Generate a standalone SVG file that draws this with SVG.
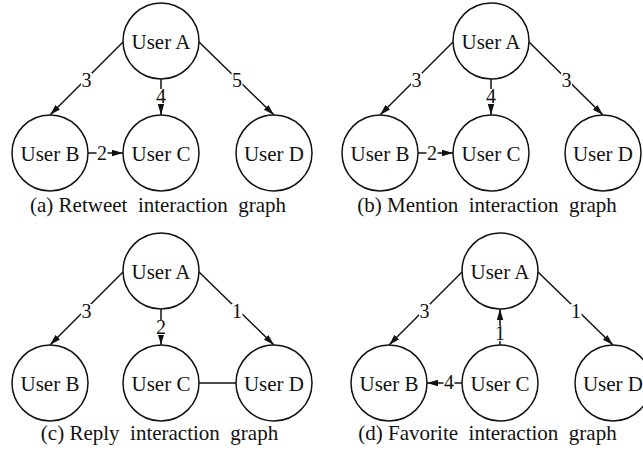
<svg xmlns="http://www.w3.org/2000/svg" width="643" height="456" viewBox="0 0 643 456" font-family="'Liberation Serif', 'Times New Roman', serif">
  <style>
    .node circle { fill: #ffffff; stroke: #111111; stroke-width: 1.5; }
    text { fill: #111111; text-anchor: middle; }
    .node text, .caption { font-size: 21px; }
    .caption { white-space: pre; }
    .edge { stroke: #111111; stroke-width: 1.5; fill: none; }
    .arrow { marker-end: url(#head); }
    .wlabel rect { fill: #ffffff; }
    .wlabel text { font-size: 20px; }
  </style>
  <defs>
    <marker id="head" markerUnits="userSpaceOnUse" markerWidth="12" markerHeight="7" refX="11" refY="3.25" orient="auto">
      <path d="M0,0 L11,3.25 L0,6.5 Z" fill="#111111"/>
    </marker>
  </defs>
  <rect width="643" height="456" fill="#ffffff"/>

  <!-- connectors -->
  <g id="connectors">
    <!-- (a) retweet -->
    <line class="edge arrow" x1="123" y1="42" x2="50" y2="115"/>
    <line class="edge arrow" x1="161" y1="79" x2="161" y2="115"/>
    <line class="edge arrow" x1="199" y1="42" x2="274" y2="115"/>
    <line class="edge arrow" x1="88" y1="153" x2="123" y2="153"/>
    <!-- (b) mention -->
    <line class="edge arrow" x1="453" y1="42" x2="380" y2="115"/>
    <line class="edge arrow" x1="491" y1="79" x2="491" y2="115"/>
    <line class="edge arrow" x1="529" y1="42" x2="603" y2="115"/>
    <line class="edge arrow" x1="418" y1="153" x2="453" y2="153"/>
    <!-- (c) reply -->
    <line class="edge arrow" x1="123" y1="272" x2="50" y2="345"/>
    <line class="edge arrow" x1="161" y1="309" x2="161" y2="345"/>
    <line class="edge arrow" x1="199" y1="272" x2="274" y2="345"/>
    <line class="edge" x1="199" y1="383" x2="236" y2="383"/>
    <!-- (d) favorite -->
    <line class="edge arrow" x1="462" y1="272" x2="389" y2="345"/>
    <line class="edge arrow" x1="500" y1="345" x2="500" y2="309"/>
    <line class="edge arrow" x1="538" y1="272" x2="613" y2="345"/>
    <line class="edge arrow" x1="462" y1="383" x2="427" y2="383"/>

    <!-- edge weights -->
    <g class="wlabel">
      <rect x="81" y="73" width="11" height="15"/><text x="86.5" y="87">3</text>
      <rect x="155.5" y="89" width="11" height="15"/><text x="161" y="103">4</text>
      <rect x="231.5" y="73" width="11" height="15"/><text x="237" y="87">5</text>
      <rect x="96.5" y="145.5" width="11" height="15"/><text x="102" y="160">2</text>

      <rect x="411" y="73" width="11" height="15"/><text x="416.5" y="87">3</text>
      <rect x="485.5" y="89" width="11" height="15"/><text x="491" y="103">4</text>
      <rect x="561" y="73" width="11" height="15"/><text x="566.5" y="87">3</text>
      <rect x="426.5" y="145.5" width="11" height="15"/><text x="432" y="160">2</text>

      <rect x="81" y="304" width="11" height="15"/><text x="86.5" y="318">3</text>
      <rect x="155.5" y="320" width="11" height="15"/><text x="161" y="334">2</text>
      <rect x="231.5" y="304" width="11" height="15"/><text x="237" y="318">1</text>

      <rect x="419" y="304" width="11" height="15"/><text x="424.5" y="318">3</text>
      <rect x="494.5" y="326" width="11" height="15"/><text x="500" y="340">1</text>
      <rect x="570.5" y="304" width="11" height="15"/><text x="576" y="318">1</text>
      <rect x="443.5" y="374.5" width="11" height="15"/><text x="449" y="389">4</text>
    </g>
  </g>

  <!-- (a) retweet interaction graph -->
  <g id="a-userA" class="node"><circle cx="161" cy="41" r="38"/><text x="161" y="48.5">User A</text></g>
  <g id="a-userB" class="node"><circle cx="50" cy="153" r="38"/><text x="50" y="160.5">User B</text></g>
  <g id="a-userC" class="node"><circle cx="161" cy="153" r="38"/><text x="161" y="160.5">User C</text></g>
  <g id="a-userD" class="node"><circle cx="274" cy="153" r="38"/><text x="274" y="160.5">User D</text></g>

  <!-- (b) mention interaction graph -->
  <g id="b-userA" class="node"><circle cx="491" cy="41" r="38"/><text x="491" y="48.5">User A</text></g>
  <g id="b-userB" class="node"><circle cx="380" cy="153" r="38"/><text x="380" y="160.5">User B</text></g>
  <g id="b-userC" class="node"><circle cx="491" cy="153" r="38"/><text x="491" y="160.5">User C</text></g>
  <g id="b-userD" class="node"><circle cx="603" cy="153" r="38"/><text x="603" y="160.5">User D</text></g>

  <!-- (c) reply interaction graph -->
  <g id="c-userA" class="node"><circle cx="161" cy="271" r="38"/><text x="161" y="278.5">User A</text></g>
  <g id="c-userB" class="node"><circle cx="50" cy="383" r="38"/><text x="50" y="390.5">User B</text></g>
  <g id="c-userC" class="node"><circle cx="161" cy="383" r="38"/><text x="161" y="390.5">User C</text></g>
  <g id="c-userD" class="node"><circle cx="274" cy="383" r="38"/><text x="274" y="390.5">User D</text></g>

  <!-- (d) favorite interaction graph -->
  <g id="d-userA" class="node"><circle cx="500" cy="271" r="38"/><text x="500" y="278.5">User A</text></g>
  <g id="d-userB" class="node"><circle cx="389" cy="383" r="38"/><text x="389" y="390.5">User B</text></g>
  <g id="d-userC" class="node"><circle cx="500" cy="383" r="38"/><text x="500" y="390.5">User C</text></g>
  <g id="d-userD" class="node"><circle cx="613" cy="383" r="38"/><text x="613" y="390.5">User D</text></g>

  <!-- captions -->
  <text class="caption" x="158" y="212">(a) Retweet  interaction  graph</text>
  <text class="caption" x="487" y="212">(b) Mention  interaction  graph</text>
  <text class="caption" x="159.5" y="440">(c) Reply  interaction  graph</text>
  <text class="caption" x="487.5" y="440">(d) Favorite  interaction  graph</text>
</svg>
